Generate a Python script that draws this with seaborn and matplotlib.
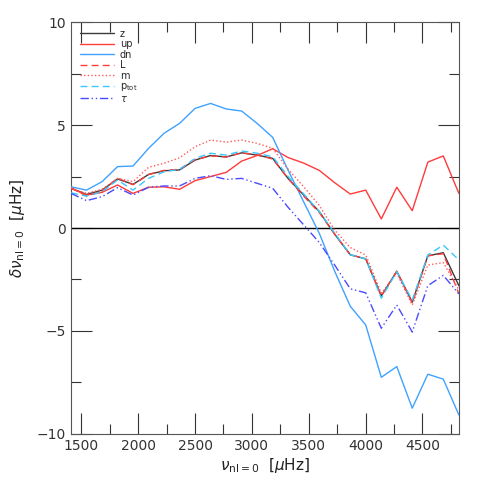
import numpy as np
import pandas as pd
import matplotlib
matplotlib.use("Agg")
import matplotlib.pyplot as plt
import seaborn as sns
from matplotlib.ticker import MultipleLocator

# frequencies of the l=0 modes [muHz]
freq = [1410, 1546, 1683, 1819, 1955, 2092, 2228, 2364, 2501, 2637, 2774, 2910, 3046,
        3183, 3319, 3456, 3592, 3728, 3865, 4001, 4138, 4274, 4410, 4547, 4683, 4820]

z = [1.93, 1.63, 1.84, 2.38, 2.12, 2.60, 2.78, 2.82, 3.30, 3.52, 3.45, 3.65, 3.54,
     3.38, 2.40, 1.60, 0.80, -0.30, -1.30, -1.50, -3.30, -2.10, -3.60, -1.35, -1.20, -2.80]
up = [1.93, 1.60, 1.73, 2.09, 1.68, 1.98, 2.00, 1.88, 2.30, 2.50, 2.70, 3.25, 3.52,
      3.85, 3.42, 3.15, 2.80, 2.20, 1.65, 1.84, 0.44, 1.98, 0.84, 3.20, 3.50, 1.68]
dn = [2.00, 1.84, 2.25, 2.98, 3.01, 3.87, 4.60, 5.08, 5.81, 6.05, 5.78, 5.68, 5.08,
      4.40, 2.80, 1.26, -0.25, -2.10, -3.80, -4.71, -7.25, -6.73, -8.75, -7.10, -7.34, -9.08]
L = [1.95, 1.55, 1.80, 2.42, 2.10, 2.60, 2.80, 2.85, 3.32, 3.50, 3.45, 3.65, 3.55,
     3.35, 2.40, 1.55, 0.75, -0.30, -1.30, -1.50, -3.30, -2.10, -3.65, -1.35, -1.25, -3.20]
m = [1.94, 1.68, 1.88, 2.41, 2.25, 2.95, 3.14, 3.41, 3.95, 4.27, 4.17, 4.27, 4.11,
     3.87, 2.85, 2.00, 1.10, -0.10, -0.95, -1.31, -3.17, -2.20, -3.74, -1.80, -1.68, -3.00]
ptot = [1.71, 1.55, 1.76, 2.33, 1.84, 2.41, 2.73, 2.85, 3.38, 3.63, 3.54, 3.74, 3.63,
        3.46, 2.50, 1.65, 0.80, -0.25, -1.30, -1.50, -3.41, -2.12, -3.50, -1.31, -0.83, -1.55]
tau = [1.68, 1.33, 1.52, 1.96, 1.60, 1.98, 2.04, 2.04, 2.41, 2.54, 2.36, 2.41, 2.17,
       1.93, 1.00, 0.15, -0.70, -1.80, -2.95, -3.15, -4.87, -3.74, -5.05, -2.80, -2.30, -3.20]

labels = ["z", "up", "dn", "L", "m", r"p$_{\rm tot}$", r"$\tau$"]
series = [z, up, dn, L, m, ptot, tau]
colors = ["#3a3a3a", "#ff3b3b", "#3fa2ff", "#ff3b3b", "#ff5a5a", "#38c8ff", "#4a4aff"]
dashes = [(None, None), (None, None), (None, None), (5, 3), (1, 1.6), (5, 3), (6, 2, 1, 2, 1, 2)]
order = [2, 6, 1, 4, 5, 0, 3]  # drawing order

sns.set_style("ticks")
plt.rcParams["font.family"] = ["DejaVu Sans"]

fig = plt.figure(figsize=(4.8, 4.8), dpi=100)
ax = fig.add_axes([0.148, 0.096, 0.808, 0.858])

ax.axhline(0, color="black", lw=1.0, zorder=1)

handles = {}
for k in order:
    df = pd.DataFrame({"freq": freq, "dnu": series[k]})
    sns.lineplot(data=df, x="freq", y="dnu", ax=ax, color=colors[k], lw=1.0,
                 estimator=None, sort=False, zorder=3 + k)
    line = ax.lines[-1]
    if dashes[k][0] is not None:
        line.set_dashes(dashes[k])
    handles[k] = line

ax.set_xlim(1410, 4820)
ax.set_ylim(-10, 10)
ax.xaxis.set_major_locator(MultipleLocator(500))
ax.xaxis.set_minor_locator(MultipleLocator(250))
ax.yaxis.set_major_locator(MultipleLocator(5))
ax.yaxis.set_minor_locator(MultipleLocator(2.5))
ax.tick_params(which="both", direction="in", top=True, right=True, color="#333333",
               labelcolor="#333333", labelsize=10, width=0.8)
ax.tick_params(which="major", length=15)
ax.tick_params(which="minor", length=7.5)
for sp in ax.spines.values():
    sp.set_color("#555555")
    sp.set_linewidth(0.8)
    sp.set_visible(True)

ax.set_xlabel(r"$\nu_{\rm nl=0}$  [$\mu$Hz]", fontsize=11, color="#222222", labelpad=2)
ax.set_ylabel(r"$\delta\nu_{\rm nl=0}$  [$\mu$Hz]", fontsize=11, color="#222222", labelpad=7)

leg = ax.legend([handles[k] for k in range(7)], labels, loc="upper left",
                bbox_to_anchor=(0.005, 1.0), frameon=False, fontsize=7,
                labelspacing=0.05, handlelength=3.5, handletextpad=0.6,
                borderaxespad=0.3)

fig.savefig("out.png", dpi=100)
